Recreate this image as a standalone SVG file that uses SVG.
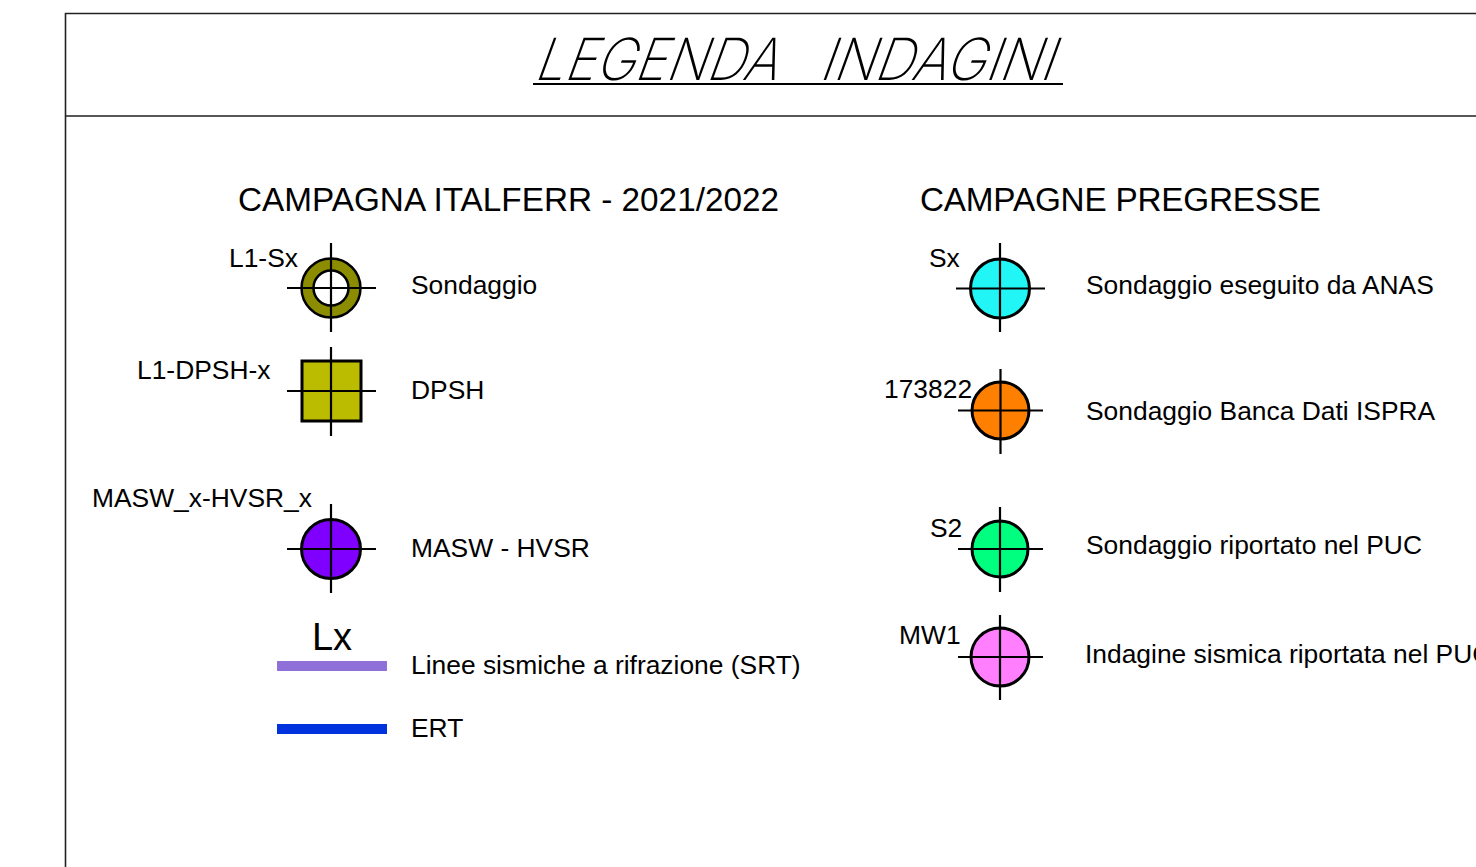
<svg xmlns="http://www.w3.org/2000/svg" width="1476" height="867" viewBox="0 0 1476 867">
<style>
.t{font-family:"Liberation Sans",Arial,sans-serif;font-size:26.4px;fill:#000}
.h{font-family:"Liberation Sans",Arial,sans-serif;font-size:33.3px;fill:#000}
.ttl{font-family:Inter,"Liberation Sans",sans-serif;font-size:58px;font-weight:200;fill:#000}
.sym{stroke:#000;stroke-width:3}
.cr{stroke:#000;stroke-width:2.2;fill:none}
.fr{stroke:#222;stroke-width:1.6;fill:none}
</style>
<rect width="1476" height="867" fill="#fff"/>
<g id="frame">
<path class="fr" d="M65.5 867V13.5H1476M65.5 116H1476"/>
</g>
<g id="title">
<g transform="translate(0 80) skewX(-20) translate(0 -80)">
<text class="ttl" x="533" y="80" textLength="243" lengthAdjust="spacingAndGlyphs">LEGENDA</text>
<text class="ttl" x="818" y="80" textLength="234" lengthAdjust="spacingAndGlyphs">INDAGINI</text>
</g>
<line x1="533" y1="84" x2="1063" y2="84" stroke="#000" stroke-width="2"/>
</g>
<g id="heading-left"><text class="h" x="238" y="211">CAMPAGNA ITALFERR - 2021/2022</text></g>
<g id="heading-right"><text class="h" x="920" y="211" textLength="401">CAMPAGNE PREGRESSE</text></g>

<g id="sondaggio">
<circle cx="331" cy="288" r="23.5" fill="none" stroke="#8c8c00" stroke-width="12"/>
<circle cx="331" cy="288" r="29.5" fill="none" stroke="#000" stroke-width="2.5"/>
<circle cx="331" cy="288" r="17.5" fill="#fff" stroke="#000" stroke-width="2.5"/>
<path class="cr" d="M287 288H376M331 243V332"/>
<text class="t" x="229" y="267">L1-Sx</text>
<text class="t" x="411" y="294">Sondaggio</text>
</g>
<g id="dpsh">
<rect x="302" y="361" width="59" height="60" fill="#bbbb00" class="sym"/>
<path class="cr" d="M287 391H376M331 347V436"/>
<text class="t" x="137" y="379">L1-DPSH-x</text>
<text class="t" x="411" y="399">DPSH</text>
</g>
<g id="masw">
<circle cx="331" cy="549" r="29.5" fill="#7f00ff" class="sym"/>
<path class="cr" d="M287 549H376M331 504V593"/>
<text class="t" x="92" y="507">MASW_x-HVSR_x</text>
<text class="t" x="411" y="557">MASW - HVSR</text>
</g>
<g id="srt">
<text x="332" y="650" text-anchor="middle" font-family="Liberation Sans,Arial,sans-serif" font-size="38">Lx</text>
<line x1="277" y1="666" x2="387" y2="666" stroke="#8f6fd8" stroke-width="10"/>
<text class="t" x="411" y="674">Linee sismiche a rifrazione (SRT)</text>
</g>
<g id="ert">
<line x1="277" y1="729" x2="387" y2="729" stroke="#0033dd" stroke-width="10"/>
<text class="t" x="411" y="737">ERT</text>
</g>

<g id="anas">
<circle cx="1000" cy="288.5" r="29.5" fill="#22f5f5" class="sym"/>
<path class="cr" d="M956 288.5H1045M1000 243V332"/>
<text class="t" x="929" y="267">Sx</text>
<text class="t" x="1086" y="294">Sondaggio eseguito da ANAS</text>
</g>
<g id="ispra">
<circle cx="1000.5" cy="410.5" r="28.5" fill="#ff7f00" class="sym"/>
<path class="cr" d="M958 410.5H1043M1000.5 369V454"/>
<text class="t" x="884" y="398">173822</text>
<text class="t" x="1086" y="420">Sondaggio Banca Dati ISPRA</text>
</g>
<g id="puc">
<circle cx="1000" cy="549" r="28" fill="#00ff7f" class="sym"/>
<path class="cr" d="M958 549H1043M1000 507V592"/>
<text class="t" x="930" y="537">S2</text>
<text class="t" x="1086" y="554">Sondaggio riportato nel PUC</text>
</g>
<g id="sismica-puc">
<circle cx="1000" cy="657" r="29" fill="#ff7fff" class="sym"/>
<path class="cr" d="M958 657H1043M1000 615V700"/>
<text class="t" x="899" y="644">MW1</text>
<text class="t" x="1085" y="663">Indagine sismica riportata nel PUC</text>
</g>
</svg>
